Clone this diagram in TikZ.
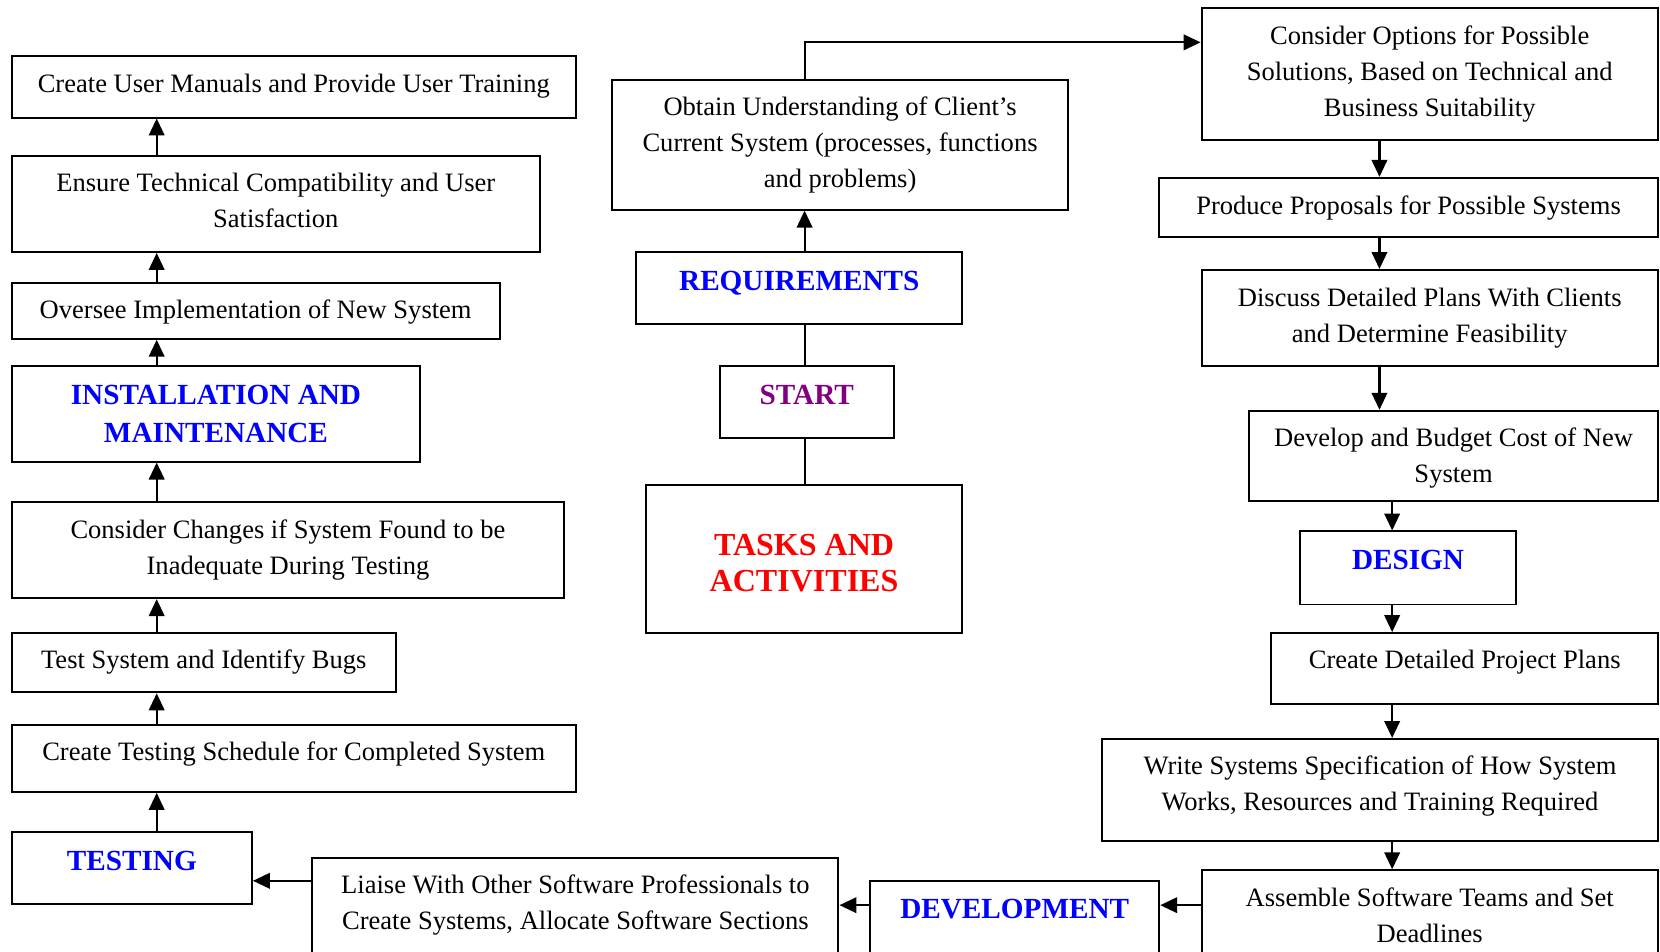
\documentclass[tikz,border=0pt]{standalone}
\usepackage{fontspec}
\setmainfont{Liberation Serif}
\usetikzlibrary{arrows.meta}
\definecolor{hdblue}{RGB}{0,0,255}
\definecolor{hdpurple}{RGB}{128,0,128}
\definecolor{hdred}{RGB}{255,0,0}

\begin{document}
\begin{tikzpicture}[x=0.75pt,y=0.75pt,yscale=-1,xscale=1,
    box/.style={draw, line width=1.4pt, inner sep=0pt, align=center,
        font=\fontsize{18.8}{25.5}\selectfont},
    head/.style={box, text=hdblue, font=\fontsize{20.7}{27}\selectfont\bfseries},
    sz/.style 2 args={minimum width=#1*0.75pt, minimum height=#2*0.75pt},
    arr/.style={line width=1.5pt, -{Triangle[length=12pt,width=11pt]}},
    lnk/.style={line width=1.5pt}]
        \useasboundingbox (0,0) rectangle (1568,899);
        \clip (0,0) rectangle (1568,899);

        % column guides
        \coordinate (lx) at (148,0);
        \coordinate (mx) at (760,0);
        \coordinate (rxa) at (1303,0);
        \coordinate (rxb) at (1315,0);
        \coordinate (ty) at (0,40);
        \coordinate (by) at (0,855);
        \coordinate (ly) at (0,832);

        % left column
        \node [box, sz={533}{58}, text depth=4.5pt] (man) at (277.5,82) {Create User Manuals and Provide User Training};
        \node [box, sz={499}{91}, text depth=5pt] (ens) at (260.5,192.5) {Ensure Technical Compatibility and User\\Satisfaction};
        \node [box, sz={461}{53}, text depth=2pt] (ovs) at (241.5,293.5) {Oversee Implementation of New System};
        \node [head, sz={386}{90}, text depth=0pt] (inst) at (204,391) {INSTALLATION AND\\MAINTENANCE};
        \node [box, sz={522}{91}, text depth=4.5pt] (chg) at (272,519.5) {Consider Changes if System Found to be\\Inadequate During Testing};
        \node [box, sz={363}{56}, text depth=4.5pt] (tst) at (192.5,626) {Test System and Identify Bugs};
        \node [box, sz={533}{63}, text depth=10pt] (sch) at (277.5,716.5) {Create Testing Schedule for Completed System};
        \node [head, sz={227}{68}, text depth=10.5pt] (testing) at (124.5,820) {TESTING};

        % middle column
        \node [box, sz={431}{122}, text depth=4pt] (obt) at (793.5,137) {Obtain Understanding of Client’s\\Current System (processes, functions\\and problems)};
        \node [head, sz={308}{68}, text depth=10.5pt] (req) at (755,272) {REQUIREMENTS};
        \node [head, sz={164}{68}, text depth=10.5pt, text=hdpurple] (start) at (762,380) {START};
        \node [head, sz={299}{140}, text=hdred, text height=46pt, text depth=0pt,
            font=\fontsize{22.7}{25.5}\selectfont\bfseries] (tasks) at (759.5,528) {TASKS AND\\ACTIVITIES};

        % right column
        \node [box, sz={431}{124}, text depth=4pt] (opt) at (1350.5,70) {Consider Options for Possible\\Solutions, Based on Technical and\\Business Suitability};
        \node [box, sz={471}{56}, text depth=3pt] (prop) at (1330.5,196) {Produce Proposals for Possible Systems};
        \node [box, sz={431}{91}, text depth=4.5pt] (disc) at (1350.5,300.5) {Discuss Detailed Plans With Clients\\and Determine Feasibility};
        \node [box, sz={386}{85}, text depth=1pt] (dev) at (1373,430.5) {Develop and Budget Cost of New\\System};
        \node [head, sz={204}{69}, text depth=11pt] (design) at (1330,536.5) {DESIGN};
        \node [box, sz={365}{67}, text depth=13pt] (plans) at (1383.5,631.5) {Create Detailed Project Plans};
        \node [box, sz={525}{96}, text depth=10pt] (spec) at (1303.5,746) {Write Systems Specification of How System\\Works, Resources and Training Required};
        \node [box, sz={431}{90}, text depth=4pt] (asm) at (1350.5,867) {Assemble Software Teams and Set\\Deadlines};

        % bottom row
        \node [head, sz={273}{80}, text depth=21pt] (devel) at (958.5,872) {DEVELOPMENT};
        \node [box, sz={497}{102}, text depth=13.5pt] (liaise) at (543.5,861) {Liaise With Other Software Professionals to\\Create Systems, Allocate Software Sections};

        % connectors, left column
        \draw [arr] (testing.north -| lx) -- (sch.south -| lx);
        \draw [arr] (sch.north -| lx) -- (tst.south -| lx);
        \draw [arr] (tst.north -| lx) -- (chg.south -| lx);
        \draw [arr] (chg.north -| lx) -- (inst.south -| lx);
        \draw [arr] (inst.north -| lx) -- (ovs.south -| lx);
        \draw [arr] (ovs.north -| lx) -- (ens.south -| lx);
        \draw [arr] (ens.north -| lx) -- (man.south -| lx);

        % connectors, middle column
        \draw [lnk] (tasks.north -| mx) -- (start.south -| mx);
        \draw [lnk] (start.north -| mx) -- (req.south -| mx);
        \draw [arr] (req.north -| mx) -- (obt.south -| mx);
        \draw [arr] (obt.north -| mx) |- (opt.west |- ty);

        % connectors, right column
        \draw [arr] (opt.south -| rxa) -- (prop.north -| rxa);
        \draw [arr] (prop.south -| rxa) -- (disc.north -| rxa);
        \draw [arr] (disc.south -| rxa) -- (dev.north -| rxa);
        \draw [arr] (dev.south -| rxb) -- (design.north -| rxb);
        \draw [arr] (design.south -| rxb) -- (plans.north -| rxb);
        \draw [arr] (plans.south -| rxb) -- (spec.north -| rxb);
        \draw [arr] (spec.south -| rxb) -- (asm.north -| rxb);

        % connectors, bottom row
        \draw [arr] (asm.west |- by) -- (devel.east |- by);
        \draw [arr] (devel.west |- by) -- (liaise.east |- by);
        \draw [arr] (liaise.west |- ly) -- (testing.east |- ly);

\end{tikzpicture}
\end{document}
